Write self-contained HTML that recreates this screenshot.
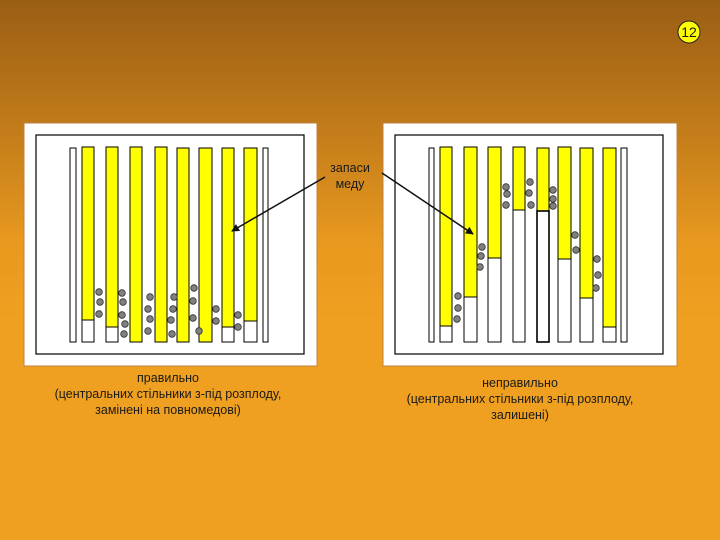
<!DOCTYPE html>
<html><head><meta charset="utf-8"><style>
html,body{margin:0;padding:0}
body{width:720px;height:540px;overflow:hidden;background:linear-gradient(180deg,#9a5e14 0%,#c47d1a 25%,#e8991f 45%,#f0a020 60%,#f0a020 100%)}
svg{display:block}
text{font-family:"Liberation Sans",sans-serif;font-size:12.5px;fill:#1a1a1a}
</style></head><body>
<svg width="720" height="540" viewBox="0 0 720 540">
<defs><marker id="ah" markerWidth="8" markerHeight="8" refX="7" refY="4" orient="auto" markerUnits="userSpaceOnUse"><path d="M0,0 L8,4 L0,8 z" fill="#111"/></marker></defs>
<circle cx="689" cy="32" r="11" fill="#ffff00" stroke="#222" stroke-width="1"/>
<text x="689" y="37" text-anchor="middle" style="font-size:14px">12</text>

<!-- left -->
<rect x="24" y="123" width="293" height="243" fill="#fff" stroke="#c08040" stroke-width="1"/>
<rect x="36" y="135" width="268" height="219" fill="#fff" stroke="#000" stroke-width="1.2"/>
<g stroke="#000" stroke-width="1">
<rect x="70" y="148" width="6" height="194" fill="#fff"/>
<rect x="82" y="147" width="12" height="195" fill="#ffff00"/><rect x="82" y="320" width="12" height="22" fill="#fff"/>
<rect x="106" y="147" width="12" height="195" fill="#ffff00"/><rect x="106" y="327" width="12" height="15" fill="#fff"/>
<rect x="130" y="147" width="12" height="195" fill="#ffff00"/>
<rect x="155" y="147" width="12" height="195" fill="#ffff00"/>
<rect x="177" y="148" width="12" height="194" fill="#ffff00"/>
<rect x="199" y="148" width="13" height="194" fill="#ffff00"/>
<rect x="222" y="148" width="12" height="194" fill="#ffff00"/><rect x="222" y="327" width="12" height="15" fill="#fff"/>
<rect x="244" y="148" width="13" height="194" fill="#ffff00"/><rect x="244" y="321" width="13" height="21" fill="#fff"/>
<rect x="263" y="148" width="5" height="194" fill="#fff"/>
</g>
<g fill="#808080" stroke="#333" stroke-width="0.8">
<circle cx="99" cy="292" r="3.3"/><circle cx="100" cy="302" r="3.3"/><circle cx="99" cy="314" r="3.3"/>
<circle cx="122" cy="293" r="3.3"/><circle cx="123" cy="302" r="3.3"/><circle cx="122" cy="315" r="3.3"/><circle cx="125" cy="324" r="3.3"/><circle cx="124" cy="334" r="3.3"/>
<circle cx="150" cy="297" r="3.3"/><circle cx="148" cy="309" r="3.3"/><circle cx="150" cy="319" r="3.3"/><circle cx="148" cy="331" r="3.3"/>
<circle cx="174" cy="297" r="3.3"/><circle cx="173" cy="309" r="3.3"/><circle cx="171" cy="320" r="3.3"/><circle cx="172" cy="334" r="3.3"/>
<circle cx="194" cy="288" r="3.3"/><circle cx="193" cy="301" r="3.3"/><circle cx="193" cy="318" r="3.3"/><circle cx="199" cy="331" r="3.3"/>
<circle cx="216" cy="309" r="3.3"/><circle cx="216" cy="321" r="3.3"/>
<circle cx="238" cy="315" r="3.3"/><circle cx="238" cy="327" r="3.3"/>
</g>

<!-- right -->
<rect x="383" y="123" width="294" height="243" fill="#fff" stroke="#c08040" stroke-width="1"/>
<rect x="395" y="135" width="268" height="219" fill="#fff" stroke="#000" stroke-width="1.2"/>
<g stroke="#000" stroke-width="1">
<rect x="429" y="148" width="5" height="194" fill="#fff"/>
<rect x="440" y="147" width="12" height="195" fill="#ffff00"/><rect x="440" y="326" width="12" height="16" fill="#fff"/>
<rect x="464" y="147" width="13" height="195" fill="#ffff00"/><rect x="464" y="297" width="13" height="45" fill="#fff"/>
<rect x="488" y="147" width="13" height="195" fill="#ffff00"/><rect x="488" y="258" width="13" height="84" fill="#fff"/>
<rect x="513" y="147" width="12" height="195" fill="#ffff00"/><rect x="513" y="210" width="12" height="132" fill="#fff"/>
<rect x="537" y="148" width="12" height="194" fill="#ffff00"/><rect x="537" y="211" width="12" height="131" fill="#fff" stroke-width="1.6"/>
<rect x="558" y="147" width="13" height="195" fill="#ffff00"/><rect x="558" y="259" width="13" height="83" fill="#fff"/>
<rect x="580" y="148" width="13" height="194" fill="#ffff00"/><rect x="580" y="298" width="13" height="44" fill="#fff"/>
<rect x="603" y="148" width="13" height="194" fill="#ffff00"/><rect x="603" y="327" width="13" height="15" fill="#fff"/>
<rect x="621" y="148" width="6" height="194" fill="#fff"/>
</g>
<g fill="#808080" stroke="#333" stroke-width="0.8">
<circle cx="458" cy="296" r="3.3"/><circle cx="458" cy="308" r="3.3"/><circle cx="457" cy="319" r="3.3"/>
<circle cx="482" cy="247" r="3.3"/><circle cx="481" cy="256" r="3.3"/><circle cx="480" cy="267" r="3.3"/>
<circle cx="506" cy="187" r="3.3"/><circle cx="507" cy="194" r="3.3"/><circle cx="506" cy="205" r="3.3"/>
<circle cx="530" cy="182" r="3.3"/><circle cx="529" cy="193" r="3.3"/><circle cx="531" cy="205" r="3.3"/>
<circle cx="553" cy="190" r="3.3"/><circle cx="553" cy="199" r="3.3"/><circle cx="553" cy="206" r="3.3"/>
<circle cx="575" cy="235" r="3.3"/><circle cx="576" cy="250" r="3.3"/>
<circle cx="597" cy="259" r="3.3"/><circle cx="598" cy="275" r="3.3"/><circle cx="596" cy="288" r="3.3"/>
</g>

<text x="350" y="172" text-anchor="middle">запаси</text>
<text x="350" y="188" text-anchor="middle">меду</text>
<line x1="325" y1="177" x2="232" y2="231" stroke="#111" stroke-width="1.5" marker-end="url(#ah)"/>
<line x1="382" y1="173" x2="473" y2="234" stroke="#111" stroke-width="1.5" marker-end="url(#ah)"/>

<text x="168" y="382" text-anchor="middle">правильно</text>
<text x="168" y="398" text-anchor="middle">(центральних стільники з-під розплоду,</text>
<text x="168" y="414" text-anchor="middle">замінені на повномедові)</text>
<text x="520" y="387" text-anchor="middle">неправильно</text>
<text x="520" y="403" text-anchor="middle">(центральних стільники з-під розплоду,</text>
<text x="520" y="419" text-anchor="middle">залишені)</text>
</svg>
</body></html>
